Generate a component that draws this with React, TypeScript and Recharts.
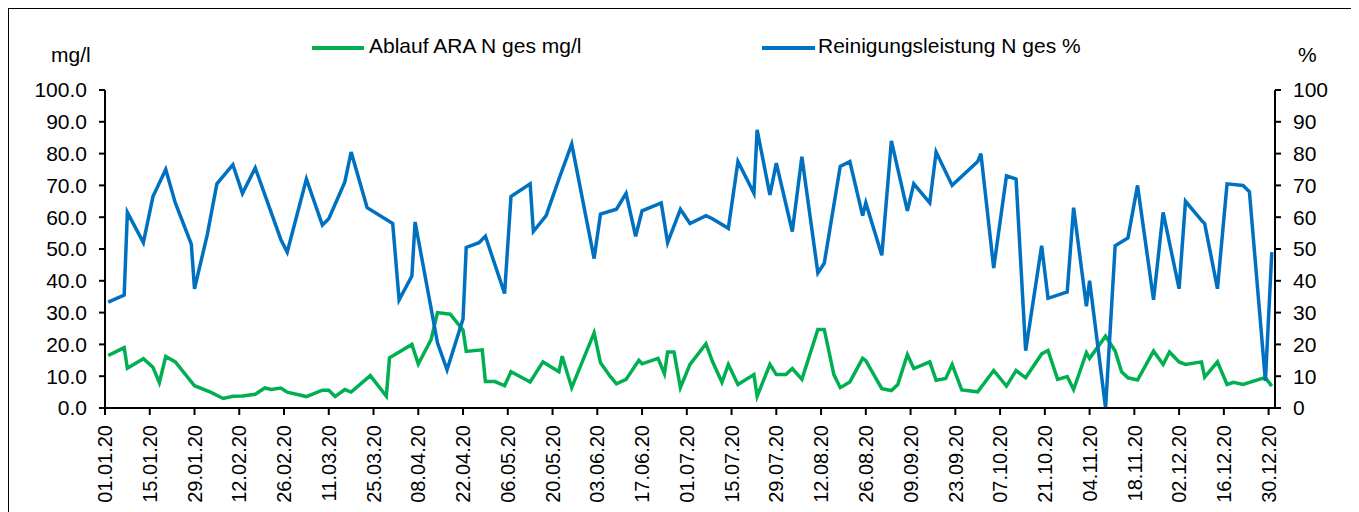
import { LineChart, Line, XAxis, YAxis } from "recharts";

const FONT = '"Liberation Sans", Arial, sans-serif';
const GREEN = "#00B050";
const BLUE = "#0070C0";

// day index counted from 01.01.20
const greenDays = [
  1, 3, 6, 7, 12, 15, 17, 19, 22, 28, 33, 37, 40, 43, 47, 50, 52, 55, 57, 63, 68, 70, 72, 75, 77, 83,
  88, 89, 96, 98, 102, 104, 108, 112, 113, 118, 119, 122, 125, 127, 133, 137, 142, 143, 146, 153,
  155, 158, 160, 163, 167, 168, 173, 175, 176, 178, 180, 183, 188, 190, 193, 195, 198, 203, 204,
  208, 210, 213, 215, 218, 223, 225, 228, 230, 233, 237, 238, 243, 246, 248, 251, 253, 258, 260,
  263, 265, 268, 273, 278, 282, 285, 288, 293, 295, 298, 301, 303, 307, 308, 313, 316, 318, 320,
  323, 328, 331, 333, 336, 338, 343, 344, 348, 351, 353, 356, 362, 363, 365,
];
const greenValues = [
  16.5, 17.5, 19, 12.5, 15.5, 12.8, 8, 16.2, 14.5, 7, 5, 3, 3.7, 3.8, 4.3, 6.3, 5.8, 6.3, 5, 3.6, 5.6,
  5.6, 3.6, 5.8, 5, 10.2, 3.7, 15.8, 20, 13.8, 21.5, 30, 29.5, 24.5, 17.8, 18.3, 8.3, 8.3, 7, 11.4,
  8.2, 14.5, 11.4, 16.3, 6.4, 23.6, 14.2, 10, 7.6, 9, 15, 13.9, 15.6, 10.8, 17.6, 17.6, 6.4, 13.7,
  20.2, 14.7, 8.1, 13.7, 7.4, 10.5, 3.7, 13.7, 10.5, 10.5, 12.4, 9, 24.7, 24.7, 10.5, 6.4, 8.2, 15.6,
  14.9, 6.1, 5.5, 7.4, 16.8, 12.4, 14.5, 8.7, 9.3, 13.7, 5.7, 5.1, 11.8, 6.9, 11.8, 9.5, 17, 18.1, 9,
  9.9, 5.8, 17.4, 15.6, 22.6, 17.9, 11.4, 9.5, 8.8, 17.9, 13.7, 17.6, 14.5, 13.7, 14.5, 9.7, 14.5,
  7.4, 8.1, 7.4, 9.3, 9.5, 6.9,
];

const blueDays = [
  1, 6, 7, 12, 15, 19, 22, 27, 28, 32, 35, 40, 43, 47, 55, 57, 63, 68, 70, 75, 77, 82, 90, 92, 96,
  97, 104, 107, 112, 113, 117, 119, 125, 127, 133, 134, 138, 142, 146, 153, 155, 160, 163, 166, 168,
  174, 176, 180, 183, 188, 190, 195, 198, 203, 204, 208, 210, 215, 218, 223, 225, 230, 233, 237,
  238, 243, 246, 251, 253, 258, 260, 265, 273, 274, 278, 282, 285, 288, 293, 295, 301, 303, 307,
  308, 313, 316, 320, 323, 328, 331, 336, 338, 343, 344, 348, 351, 356, 358, 363, 365,
];
const blueValues = [
  33.3, 35.5, 61.5, 52, 66.5, 75, 64.5, 51.5, 37.5, 54.5, 70.5, 76.5, 67.5, 75.5, 53, 49, 72, 57.5,
  59.5, 71, 80.5, 63, 58, 34, 41.5, 58.5, 20.5, 12, 28, 50.5, 52, 54, 36, 66.5, 70.5, 55.5, 60.5, 72,
  83, 47, 61, 62.5, 67.5, 54, 62, 64.5, 52, 62.5, 58, 60.5, 59.5, 56.5, 77.5, 67.5, 87.5, 67, 77,
  55.5, 79, 42.5, 45.5, 76, 77.5, 60.5, 64.5, 48, 84, 62, 70.5, 64.5, 80.5, 70, 77.5, 80, 44, 73, 72,
  18, 51, 34.5, 36.5, 63, 32, 40, 0, 51, 53.5, 70, 34, 61.5, 37.5, 65, 59, 58, 37.5, 70.5, 70, 68,
  8.5, 49,
];

const xTickLabels = [
  "01.01.20", "15.01.20", "29.01.20", "12.02.20", "26.02.20", "11.03.20", "25.03.20", "08.04.20",
  "22.04.20", "06.05.20", "20.05.20", "03.06.20", "17.06.20", "01.07.20", "15.07.20", "29.07.20",
  "12.08.20", "26.08.20", "09.09.20", "23.09.20", "07.10.20", "21.10.20", "04.11.20", "18.11.20",
  "02.12.20", "16.12.20", "30.12.20",
];
const xTicks = xTickLabels.map((_, i) => i * 14);
const yTicks = [0, 10, 20, 30, 40, 50, 60, 70, 80, 90, 100];

const greenData = greenDays.map((d, i) => ({ day: d, v: greenValues[i] }));
const blueData = blueDays.map((d, i) => ({ day: d, v: blueValues[i] }));

// eslint-disable-next-line @typescript-eslint/no-explicit-any
function XTick({ x, y, payload }: any) {
  const label = xTickLabels[Math.round(payload.value / 14)] ?? "";
  return (
    <text x={x} y={y} transform={`rotate(-90 ${x} ${y})`} textAnchor="end" dy="0.36em"
      style={{ fontSize: 20, fill: "#000", fontFamily: FONT }}>
      {label}
    </text>
  );
}

const axisStroke = { stroke: "#000", strokeWidth: 2 };
const tickStyle = { fontSize: 21, fill: "#000", fontFamily: FONT };

export default function App() {
  return (
    <div style={{ position: "relative", width: 1351, height: 504, borderTop: "1px solid #000",
      borderLeft: "1px solid #000", fontFamily: FONT, color: "#000", background: "#fff" }}>
      {/* legend */}
      <div style={{ position: "absolute", left: 303, top: 37, width: 52, height: 3.5, background: GREEN }} />
      <div style={{ position: "absolute", left: 360, top: 26, fontSize: 21, lineHeight: "21px", whiteSpace: "nowrap" }}>
        Ablauf ARA N ges mg/l
      </div>
      <div style={{ position: "absolute", left: 753, top: 37, width: 53, height: 3.5, background: BLUE }} />
      <div style={{ position: "absolute", left: 809, top: 26, fontSize: 21, lineHeight: "21px", whiteSpace: "nowrap" }}>
        Reinigungsleistung N ges %
      </div>
      {/* axis units */}
      <div style={{ position: "absolute", left: 42, top: 35, fontSize: 21, lineHeight: "21px" }}>mg/l</div>
      <div style={{ position: "absolute", left: 1289, top: 35, fontSize: 21, lineHeight: "21px" }}>%</div>

      <LineChart width={1350} height={503} margin={{ top: 81, right: 14, left: 0, bottom: 0 }}
        style={{ position: "absolute", left: 0, top: 0 }}>
        <XAxis dataKey="day" type="number" domain={[0, 366]} ticks={xTicks} interval={0}
          allowDataOverflow height={104} tickSize={7} tickMargin={10}
          axisLine={axisStroke} tickLine={axisStroke} tick={<XTick />} />
        <YAxis yAxisId="l" domain={[0, 100]} ticks={yTicks} interval={0} width={96}
          tickSize={6} tickMargin={12} axisLine={axisStroke} tickLine={axisStroke}
          tick={tickStyle} tickFormatter={(v: number) => v.toFixed(1)} />
        <YAxis yAxisId="r" orientation="right" domain={[0, 100]} ticks={yTicks} interval={0} width={70}
          tickSize={6} tickMargin={12} axisLine={axisStroke} tickLine={axisStroke}
          tick={tickStyle} />
        {/* Ablauf — primary axis */}
        <Line yAxisId="l" data={greenData} dataKey="v" type="linear" stroke={GREEN} strokeWidth={3.5}
          dot={false} activeDot={false} isAnimationActive={false} />
        {/* Reinigungsleistung — secondary axis, drawn on top */}
        <Line yAxisId="r" data={blueData} dataKey="v" type="linear" stroke={BLUE} strokeWidth={3.5}
          dot={false} activeDot={false} isAnimationActive={false} />
      </LineChart>
    </div>
  );
}
